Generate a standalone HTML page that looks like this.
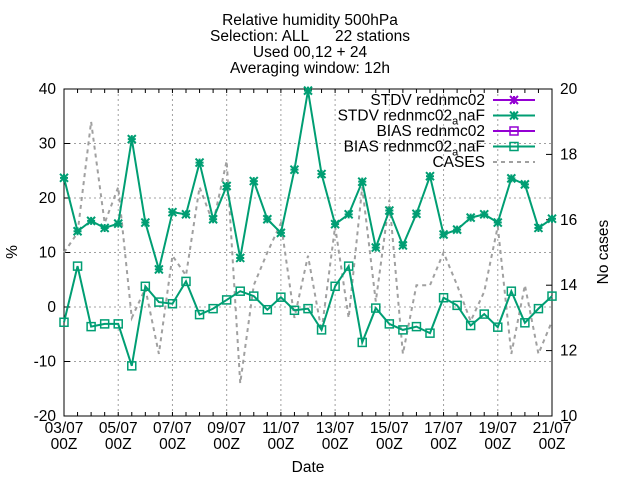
<!DOCTYPE html>
<html><head><meta charset="utf-8"><style>
body{margin:0;background:#fff;}
svg{font-family:"Liberation Sans",sans-serif;}
</style></head><body>
<svg id="c" width="640" height="480" xmlns="http://www.w3.org/2000/svg">
<g font-size="15.5" text-anchor="middle" fill="#000">
<text x="310" y="25">Relative humidity 500hPa</text>
<text x="310" y="41">Selection: ALL&#160;&#160;&#160;&#160;&#160; 22 stations</text>
<text x="310" y="57">Used 00,12 + 24</text>
<text x="310" y="73">Averaging window: 12h</text>
</g>
<g id="grid"></g>
<g id="axes"></g>
<g id="series"></g>
<g id="legend"></g>
<text x="17" y="252" font-size="15.5" text-anchor="middle" transform="rotate(-90 17 252)">%</text>
<text x="608" y="252" font-size="15.5" text-anchor="middle" transform="rotate(-90 608 252)">No cases</text>
<text x="308" y="472" font-size="15.5" text-anchor="middle">Date</text>
</svg>
<script>
const xLabels=["03/07","05/07","07/07","09/07","11/07","13/07","15/07","17/07","19/07","21/07"];
const yTicks=[-20,-10,0,10,20,30,40];
const y2Ticks=[10,12,14,16,18,20];
const stdv=[23.7,13.9,15.8,14.5,15.3,30.8,15.5,6.9,17.4,17,26.5,16.1,22.2,9,23.1,16.1,13.6,25.2,39.7,24.4,15.2,17,23,10.9,17.7,11.3,17.1,24,13.3,14.2,16.4,17,15.5,23.6,22.5,14.5,16.2];
const bias=[-2.8,7.5,-3.6,-3.1,-3.1,-10.8,3.8,0.9,0.6,4.7,-1.4,-0.3,1.3,2.9,2,-0.5,1.8,-0.6,-0.3,-4.2,3.8,7.5,-6.5,-0.2,-3.1,-4.2,-3.6,-4.8,1.7,0.3,-3.4,-1.3,-3.7,2.9,-2.9,-0.3,2];
const cases=[15,15.6,19,15.9,17,13,13.9,11.9,14.9,14.3,17,15.9,17.8,11,14,15,15.9,13,14.9,12.6,15.8,13,17,13.5,16.6,11.9,14,14,15,14,12.9,13.8,15.8,11.9,14,11.9,12.9];
const L=64,R=552,T=89,B=416;
const NS="http://www.w3.org/2000/svg";
const FS=15.5;
const xs=i=>L+(R-L)*i/(stdv.length-1);
const ys=v=>B-(v+20)/60*(B-T);
const ys2=v=>B-(v-10)/10*(B-T);
function mk(t,a,p){const e=document.createElementNS(NS,t);for(const k in a)e.setAttribute(k,a[k]);p.appendChild(e);return e;}
const grid=document.getElementById('grid'),axes=document.getElementById('axes'),ser=document.getElementById('series'),leg=document.getElementById('legend');
yTicks.forEach(v=>{const y=ys(v);
 if(v>-20&&v<40){const g=mk('line',{x1:L,x2:R,y1:y,y2:y,stroke:'#a0a0a0','stroke-dasharray':'2,3'},grid);}
 mk('line',{x1:L,x2:L+6,y1:y,y2:y,stroke:'#000'},axes);
 const t=mk('text',{x:L-8,y:y+5,'font-size':FS,'text-anchor':'end'},axes);t.textContent=v;
 
 });
y2Ticks.forEach(v=>{const y=ys2(v);
 mk('line',{x1:R-6,x2:R,y1:y,y2:y,stroke:'#000'},axes);
 const t=mk('text',{x:R+8,y:y+5,'font-size':FS},axes);t.textContent=v;
 
 });
for(let i=0;i<stdv.length;i++){const x=xs(i);
 mk('line',{x1:x,x2:x,y1:B,y2:B-4,stroke:'#000'},axes);mk('line',{x1:x,x2:x,y1:T,y2:T+4,stroke:'#000'},axes);}
xLabels.forEach((s,j)=>{const x=xs(j*4);
 if(j>0&&j<xLabels.length-1){const g=mk('line',{x1:x,x2:x,y1:T,y2:B,stroke:'#a0a0a0','stroke-dasharray':'2,3'},grid);}
 const t=mk('text',{x:x,y:B+17,'font-size':FS,'text-anchor':'middle'},axes);t.textContent=s;
 
 
 const t2=mk('text',{x:x,y:B+33,'font-size':FS,'text-anchor':'middle'},axes);t2.textContent="00Z";
 
 });
mk('rect',{x:L,y:T,width:R-L,height:B-T,fill:'none',stroke:'#000'},axes);
const G='#009e73';
const pc=mk('polyline',{points:cases.map((v,i)=>xs(i)+','+ys2(v)).join(' '),fill:'none',stroke:'#a0a0a0','stroke-width':2,'stroke-dasharray':'4,4'},ser);


function star(x,y,p,c){const s=4;mk('path',{d:`M${x-s},${y}H${x+s}M${x},${y-s}V${y+s}M${x-s},${y-s}L${x+s},${y+s}M${x-s},${y+s}L${x+s},${y-s}`,stroke:c,'stroke-width':2},p);}
function box(x,y,p,c){mk('rect',{x:x-4,y:y-4,width:8,height:8,fill:'none',stroke:c,'stroke-width':1.5},p);}
const ps=mk('polyline',{points:stdv.map((v,i)=>xs(i)+','+ys(v)).join(' '),fill:'none',stroke:G,'stroke-width':2},ser);


stdv.forEach((v,i)=>star(xs(i),ys(v),ser,G));
const pb=mk('polyline',{points:bias.map((v,i)=>xs(i)+','+ys(v)).join(' '),fill:'none',stroke:G,'stroke-width':2},ser);


bias.forEach((v,i)=>box(xs(i),ys(v),ser,G));
const entries=[["STDV rednmc02","#9400d3","star"],["STDV rednmc02_anaF",G,"star"],["BIAS rednmc02","#9400d3","box"],["BIAS rednmc02_anaF",G,"box"],["CASES","#a0a0a0","dash"]];
entries.forEach((e,k)=>{const y=100+k*15.5;
 const g=mk('g',{},leg);
 const t=mk('text',{x:485,y:y+5,'font-size':FS,'text-anchor':'end'},g);
 if(e[0].includes('_a')){const p=e[0].split('_a');t.textContent=p[0];const s=mk('tspan',{'font-size':11,dy:4},t);s.textContent='a';const s2=mk('tspan',{dy:-4},t);s2.textContent=p[1];}else t.textContent=e[0];
 if(e[2]=='dash'){mk('line',{x1:493,x2:535,y1:y,y2:y,stroke:e[1],'stroke-width':2,'stroke-dasharray':'4,4'},g);}
 else{mk('line',{x1:493,x2:535,y1:y,y2:y,stroke:e[1],'stroke-width':2},g);if(e[2]=='star')star(514,y,g,e[1]);else box(514,y,g,e[1]);}});
</script>
</body></html>
